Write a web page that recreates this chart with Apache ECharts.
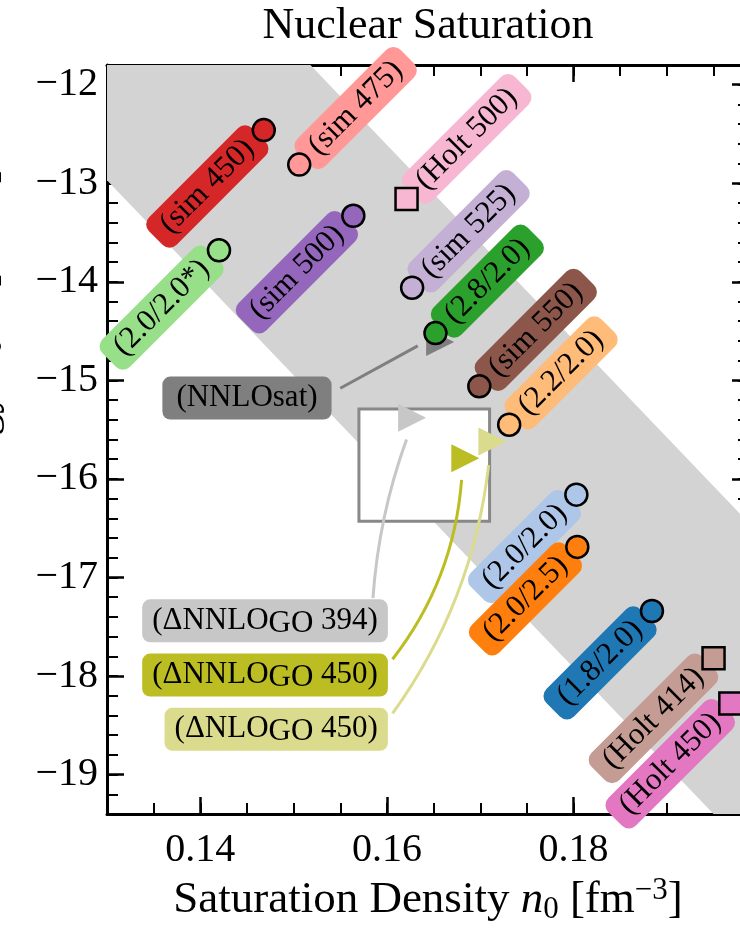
<!DOCTYPE html>
<html>
<head>
<meta charset="utf-8">
<script src="https://cdn.jsdelivr.net/npm/echarts@6/dist/echarts.min.js"></script>
<style>
  html, body { margin: 0; padding: 0; background: #ffffff; }
  #chart { width: 740px; height: 931px; }
</style>
</head>
<body>
<div id="chart"></div>
<script>
const FONT = "'Liberation Serif', 'Times New Roman', serif";

// Axis ranges and labelled ticks
const xMin = 0.13, xMax = 0.1988;
const yMin = -19.4, yMax = -11.8;
const xMajor = [0.14, 0.16, 0.18];
const yMajor = [-19, -18, -17, -16, -15, -14, -13, -12];

// Saturation points drawn as circles: density n0 [fm^-3], energy E0/A [MeV]
const circleText  = ['(sim 450)', '(sim 475)', '(sim 500)', '(2.0/2.0*)', '(sim 525)', '(2.8/2.0)',
                     '(sim 550)', '(2.2/2.0)', '(2.0/2.0)', '(2.0/2.5)', '(1.8/2.0)'];
const circleN     = [0.1468, 0.1506, 0.1564, 0.1420, 0.1627, 0.1652, 0.1699, 0.1731, 0.1803, 0.1804, 0.1884];
const circleE     = [-12.46, -12.81, -13.33, -13.68, -14.06, -14.52, -15.06, -15.45, -16.16, -16.69, -17.34];
const circleColor = ['#d62728', '#ff9896', '#9467bd', '#98df8a', '#c5b0d5', '#2ca02c',
                     '#8c564b', '#ffbb78', '#aec7e8', '#ff7f0e', '#1f77b4'];
const circleSide  = ['left', 'right', 'left', 'left', 'right', 'right', 'right', 'right', 'left', 'left', 'left'];

// Saturation points drawn as squares
const squareText  = ['(Holt 500)', '(Holt 414)', '(Holt 450)'];
const squareN     = [0.1621, 0.1950, 0.1968];
const squareE     = [-13.16, -17.82, -18.28];
const squareColor = ['#f7b6d2', '#c49c94', '#e377c2'];
const squareSide  = ['right', 'left', 'left'];

// Saturation points drawn as triangles, with their separate text boxes
const triText      = ['(NNLOsat)', '(\u0394NNLO{g|GO} 394)', '(\u0394NNLO{g|GO} 450)', '(\u0394NLO{g|GO} 450)'];
const triN         = [0.1657, 0.1627, 0.1684, 0.1713];
const triE         = [-14.61, -15.38, -15.79, -15.62];
const triColor     = ['#7f7f7f', '#c7c7c7', '#bcbd22', '#dbdb8d'];
const triTextN     = [0.1450, 0.1601, 0.1601, 0.1601];
const triTextE     = [-15.18, -17.44, -17.99, -18.54];
const triTextAlign = ['center', 'right', 'right', 'right'];
const triTextPad   = [14, 10, 10, 10];

// Connectors from the text boxes to the triangles (bend: arc curvature)
const linkStartN = [0.1550, 0.1585, 0.1606, 0.1606];
const linkStartE = [-15.08, -17.21, -17.83, -18.38];
const linkEndN   = [0.1633, 0.1621, 0.1680, 0.1709];
const linkEndE   = [-14.65, -15.60, -16.01, -15.86];
const linkBend   = [0, -0.07, 0.15, 0.13];

// Diagonal grey band
const bandN = [0.13, 0.1518, 0.1988, 0.1988, 0.1950, 0.13];
const bandE = [-11.8, -11.8, -16.45, -19.4, -19.4, -12.97];

// Empirical saturation region
const boxN = [0.157, 0.171];
const boxE = [-16.43, -15.29];

const gridRect = { left: 107, top: 65, width: 642, height: 749, containLabel: false, outerBoundsMode: 'none' };

function minorX(pos) {
  return {
    gridIndex: 0, type: 'value', position: pos, min: xMin, max: xMax, interval: 0.005,
    axisLine: { show: true, onZero: false, lineStyle: { color: '#000', width: 3 } },
    axisTick: { show: true, inside: true, length: 11, lineStyle: { color: '#000', width: 2 } },
    axisLabel: { show: false }, splitLine: { show: false }
  };
}
function minorY(pos) {
  return {
    gridIndex: 0, type: 'value', position: pos, min: yMin, max: yMax, interval: 0.2,
    axisLine: { show: true, onZero: false, lineStyle: { color: '#000', width: 3 } },
    axisTick: { show: true, inside: true, length: 11, lineStyle: { color: '#000', width: 2 } },
    axisLabel: { show: false }, splitLine: { show: false }
  };
}

const xAxes = [
  minorX('bottom'),
  minorX('top'),
  {
    gridIndex: 1, type: 'value', position: 'bottom', min: xMin, max: xMax,
    axisLine: { show: false, onZero: false },
    axisTick: { show: true, inside: true, length: 17, customValues: xMajor, lineStyle: { color: '#000', width: 2.5 } },
    axisLabel: {
      show: true, customValues: xMajor, margin: 16, color: '#000', fontFamily: FONT, fontSize: 40,
      formatter: v => v.toFixed(2)
    },
    splitLine: { show: false },
    name: 'Saturation Density {i|n}{s|0} [fm{p|\u22123}]',
    nameLocation: 'middle', nameGap: 41,
    nameTextStyle: {
      color: '#000', fontFamily: FONT, fontSize: 45, lineHeight: 50,
      rich: {
        i: { fontFamily: FONT, fontSize: 45, fontStyle: 'italic', color: '#000' },
        s: { fontFamily: FONT, fontSize: 31, lineHeight: 30, verticalAlign: 'bottom', color: '#000' },
        p: { fontFamily: FONT, fontSize: 31, lineHeight: 30, verticalAlign: 'top', color: '#000' }
      }
    }
  },
  {
    gridIndex: 1, type: 'value', position: 'top', min: xMin, max: xMax,
    axisLine: { show: false, onZero: false },
    axisTick: { show: true, inside: true, length: 17, customValues: xMajor, lineStyle: { color: '#000', width: 2.5 } },
    axisLabel: { show: false }, splitLine: { show: false }
  }
];

const yAxes = [
  minorY('left'),
  minorY('right'),
  {
    gridIndex: 1, type: 'value', position: 'left', min: yMin, max: yMax,
    axisLine: { show: false, onZero: false },
    axisTick: { show: true, inside: true, length: 17, customValues: yMajor, lineStyle: { color: '#000', width: 2.5 } },
    axisLabel: {
      show: true, customValues: yMajor, margin: 9, color: '#000', fontFamily: FONT, fontSize: 40,
      formatter: v => '\u2212' + Math.abs(v)
    },
    splitLine: { show: false },
    name: 'Saturation Energy {i|E}{s|0}/{i|A} [MeV]',
    nameLocation: 'middle', nameGap: 99,
    nameTextStyle: {
      color: '#000', fontFamily: FONT, fontSize: 44, lineHeight: 50,
      rich: {
        i: { fontFamily: FONT, fontSize: 44, fontStyle: 'italic', color: '#000' },
        s: { fontFamily: FONT, fontSize: 30, lineHeight: 30, verticalAlign: 'bottom', color: '#000' }
      }
    }
  },
  {
    gridIndex: 1, type: 'value', position: 'right', min: yMin, max: yMax,
    axisLine: { show: false, onZero: false },
    axisTick: { show: true, inside: true, length: 17, customValues: yMajor, lineStyle: { color: '#000', width: 2.5 } },
    axisLabel: { show: false }, splitLine: { show: false }
  }
];

// Text boxes: rotated ones beside circles/squares, flat ones for the triangles
const labelText = [];
const labelItems = [];
function addRotated(texts, ns, es, colors, sides) {
  texts.forEach((t, i) => {
    labelText.push(t);
    const right = sides[i] === 'right';
    labelItems.push({
      value: [ns[i], es[i]],
      label: {
        rotate: 45, align: right ? 'left' : 'right', offset: [right ? 7 : -7, 0],
        backgroundColor: colors[i], padding: [4, 13], borderRadius: 10, lineHeight: 31
      }
    });
  });
}
addRotated(circleText, circleN, circleE, circleColor, circleSide);
addRotated(squareText, squareN, squareE, squareColor, squareSide);
triText.forEach((t, i) => {
  labelText.push(t);
  labelItems.push({
    value: [triTextN[i], triTextE[i]],
    label: {
      rotate: 0, align: triTextAlign[i], offset: [0, 0],
      backgroundColor: triColor[i], padding: [3, triTextPad[i]], borderRadius: 8, lineHeight: 37
    }
  });
});

const chart = echarts.init(document.getElementById('chart'), null, { renderer: 'canvas' });

chart.setOption({
  animation: false,
  backgroundColor: '#ffffff',
  title: {
    text: 'Nuclear Saturation', left: 428, top: 4, textAlign: 'center', padding: 0,
    textStyle: { fontFamily: FONT, fontSize: 44, fontWeight: 'normal', color: '#000' }
  },
  grid: [Object.assign({}, gridRect), Object.assign({}, gridRect)],
  xAxis: xAxes,
  yAxis: yAxes,
  series: [
    {
      // grey band
      type: 'custom', xAxisIndex: 2, yAxisIndex: 2, z: 1, silent: true, clip: true,
      data: [[bandN[0], bandE[0]]],
      renderItem: (params, api) => ({
        type: 'polygon',
        shape: { points: bandN.map((n, i) => api.coord([n, bandE[i]])) },
        style: { fill: '#d3d3d3' }
      })
    },
    {
      // empirical saturation box
      type: 'custom', xAxisIndex: 2, yAxisIndex: 2, z: 2, silent: true,
      data: [[boxN[0], boxE[0]]],
      renderItem: (params, api) => {
        const a = api.coord([boxN[0], boxE[1]]);
        const b = api.coord([boxN[1], boxE[0]]);
        return {
          type: 'rect',
          shape: { x: a[0], y: a[1], width: b[0] - a[0], height: b[1] - a[1] },
          style: { fill: '#ffffff', stroke: '#888888', lineWidth: 3 }
        };
      }
    },
    {
      // connectors
      type: 'custom', xAxisIndex: 2, yAxisIndex: 2, z: 3, silent: true,
      data: linkStartN.map((n, i) => [n, linkStartE[i]]),
      renderItem: (params, api) => {
        const i = params.dataIndex;
        const s = api.coord([linkStartN[i], linkStartE[i]]);
        const e = api.coord([linkEndN[i], linkEndE[i]]);
        const dx = e[0] - s[0], dy = e[1] - s[1];
        const k = linkBend[i];
        const cx = (s[0] + e[0]) / 2 - k * dy;
        const cy = (s[1] + e[1]) / 2 + k * dx;
        return {
          type: 'bezierCurve',
          shape: { x1: s[0], y1: s[1], x2: e[0], y2: e[1], cpx1: cx, cpy1: cy },
          style: { stroke: triColor[i], lineWidth: 3, fill: null }
        };
      }
    },
    {
      // triangles
      type: 'scatter', xAxisIndex: 2, yAxisIndex: 2, z: 4, silent: true,
      symbol: 'triangle', symbolRotate: -90, symbolSize: 28,
      data: triN.map((n, i) => ({ value: [n, triE[i]], itemStyle: { color: triColor[i], opacity: 1 } })),
      itemStyle: { opacity: 1 },
      emphasis: { disabled: true }
    },
    {
      // text boxes
      type: 'scatter', xAxisIndex: 2, yAxisIndex: 2, z: 5, silent: true,
      symbolSize: 1, itemStyle: { color: 'rgba(0,0,0,0)', opacity: 1 },
      label: {
        show: true, position: 'inside', verticalAlign: 'middle',
        color: '#000', fontFamily: FONT, fontSize: 31,
        formatter: p => labelText[p.dataIndex],
        rich: { g: { fontFamily: FONT, fontSize: 31, lineHeight: 31, verticalAlign: 'bottom', color: '#000' } }
      },
      data: labelItems,
      emphasis: { disabled: true }
    },
    {
      // circles
      type: 'scatter', xAxisIndex: 2, yAxisIndex: 2, z: 6, silent: true,
      symbol: 'circle', symbolSize: 22,
      data: circleN.map((n, i) => ({ value: [n, circleE[i]], itemStyle: { color: circleColor[i] } })),
      itemStyle: { borderColor: '#000', borderWidth: 2.5, opacity: 1 },
      emphasis: { disabled: true }
    },
    {
      // squares
      type: 'scatter', xAxisIndex: 2, yAxisIndex: 2, z: 6, silent: true,
      symbol: 'rect', symbolSize: 22,
      data: squareN.map((n, i) => ({ value: [n, squareE[i]], itemStyle: { color: squareColor[i] } })),
      itemStyle: { borderColor: '#000', borderWidth: 2.5, opacity: 1 },
      emphasis: { disabled: true }
    }
  ]
});
</script>
</body>
</html>
